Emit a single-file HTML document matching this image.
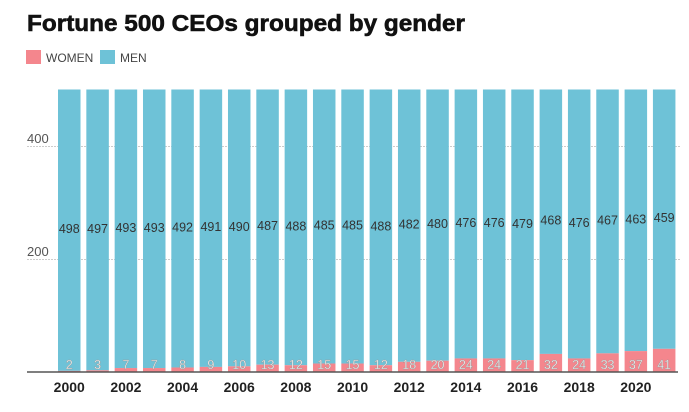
<!DOCTYPE html>
<html><head><meta charset="utf-8"><style>
body{margin:0;background:#fff;width:689px;height:407px;overflow:hidden;font-family:"Liberation Sans",sans-serif}
</style></head><body>
<svg width="689" height="407" xmlns="http://www.w3.org/2000/svg" font-family="Liberation Sans, sans-serif">
<text x="27" y="31" font-size="23" font-weight="bold" fill="#111" stroke="#111" stroke-width="0.6" textLength="438" lengthAdjust="spacingAndGlyphs">Fortune 500 CEOs grouped by gender</text>
<rect x="26" y="50" width="15" height="14" fill="#f4868d"/>
<text x="46" y="62" font-size="12" fill="#444">WOMEN</text>
<rect x="100" y="50" width="15" height="14" fill="#6ec2d7"/>
<text x="120" y="62" font-size="12" fill="#444">MEN</text>
<line x1="27" y1="146.5" x2="680" y2="146.5" stroke="#ccc" stroke-dasharray="2,1"/>
<line x1="27" y1="259.5" x2="680" y2="259.5" stroke="#ccc" stroke-dasharray="2,1"/>
<text x="27" y="143" font-size="13" fill="#555">400</text>
<text x="27" y="256" font-size="13" fill="#555">200</text>
<g id="bars"></g>
<line x1="27" y1="372" x2="678" y2="372" stroke="#555" stroke-width="1.5"/>
<g id="xl" font-size="14" font-weight="bold" fill="#222" text-anchor="middle"></g>
</svg>
<script>
var w=[2,3,7,7,8,9,10,13,12,15,15,12,18,20,24,24,21,32,24,33,37,41];
var m=[498,497,493,493,492,491,490,487,488,485,485,488,482,480,476,476,479,468,476,467,463,459];
var g=document.getElementById('bars'),xl=document.getElementById('xl'),s='',t='';
var k=0.565,b=372;
for(var i=0;i<22;i++){
 var x=58+i*28.33,wd=22.5;
 var hw=w[i]*k,hm=m[i]*k;
 s+='<rect x="'+x+'" y="'+(b-hw-hm)+'" width="'+wd+'" height="'+hm+'" fill="#6ec2d7"/>';
 s+='<rect x="'+x+'" y="'+(b-hw)+'" width="'+wd+'" height="'+hw+'" fill="#f4868d"/>';
 s+='<text x="'+(x+wd/2)+'" y="'+(b-hw-hm/2+3)+'" font-size="12.5" fill="#333" text-anchor="middle">'+m[i]+'</text>';
 s+='<text x="'+(x+wd/2)+'" y="369" font-size="12.5" fill="#fff" stroke="#999" stroke-width="0.4" text-anchor="middle">'+w[i]+'</text>';
 if(i%2==0)t+='<text x="'+(x+wd/2)+'" y="392">'+(2000+i)+'</text>';
}
g.innerHTML=s;xl.innerHTML=t;
</script>
</body></html>
